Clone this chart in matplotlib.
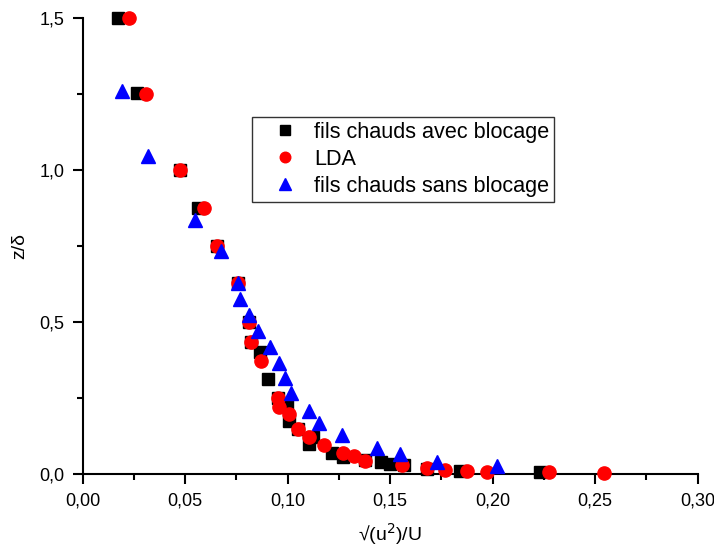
import matplotlib
matplotlib.use("Agg")
import matplotlib.pyplot as plt
from matplotlib.ticker import MultipleLocator, FuncFormatter

plt.rcParams['font.family'] = ['Liberation Sans', 'DejaVu Sans']

# fils chauds avec blocage (black squares)
sq_x = [0.0173, 0.0266, 0.0476, 0.0563, 0.0656, 0.0760, 0.0812, 0.0820, 0.0866, 0.0905,
        0.0954, 0.0998, 0.1007, 0.1050, 0.1105, 0.1124, 0.1217, 0.1270, 0.1378, 0.1456,
        0.1500, 0.1570, 0.1680, 0.1840, 0.2232]
sq_y = [1.500, 1.253, 1.000, 0.875, 0.750, 0.628, 0.500, 0.434, 0.400, 0.312,
        0.250, 0.224, 0.174, 0.148, 0.100, 0.122, 0.070, 0.056, 0.045, 0.038,
        0.033, 0.030, 0.018, 0.009, 0.006]

# LDA (red circles)
ci_x = [0.0227, 0.0310, 0.0476, 0.0593, 0.0656, 0.0760, 0.0812, 0.0820, 0.0870, 0.0954,
        0.0960, 0.1007, 0.1050, 0.1105, 0.1180, 0.1270, 0.1324, 0.1378, 0.1560, 0.1680,
        0.1766, 0.1876, 0.1973, 0.2276, 0.2544]
ci_y = [1.500, 1.250, 1.000, 0.875, 0.750, 0.628, 0.500, 0.434, 0.372, 0.250,
        0.222, 0.197, 0.148, 0.122, 0.097, 0.069, 0.059, 0.042, 0.028, 0.021,
        0.012, 0.010, 0.007, 0.006, 0.003]

# fils chauds sans blocage (blue triangles)
tr_x = [0.0193, 0.0320, 0.0550, 0.0676, 0.0760, 0.0768, 0.0810, 0.0858, 0.0915, 0.0960,
        0.0988, 0.1017, 0.1105, 0.1152, 0.1266, 0.1437, 0.1550, 0.1730, 0.2024]
tr_y = [1.260, 1.046, 0.835, 0.733, 0.628, 0.575, 0.523, 0.470, 0.418, 0.365,
        0.315, 0.265, 0.208, 0.168, 0.127, 0.086, 0.065, 0.041, 0.026]

labels = ["fils chauds avec blocage", "LDA", "fils chauds sans blocage"]

fig = plt.figure(figsize=(7.14, 5.5), dpi=100)
ax = fig.add_axes([82.5/714, 1-474/550, (697.5-82.5)/714, (474-18)/550])

ax.plot(sq_x, sq_y, 's', color='black', markersize=8.5, linestyle='none', label=labels[0], clip_on=False, zorder=3)
ax.plot(ci_x, ci_y, 'o', color='red', markersize=9.5, linestyle='none', label=labels[1], clip_on=False, zorder=4)
ax.plot(tr_x, tr_y, '^', color='blue', markersize=10, linestyle='none', label=labels[2], clip_on=False, zorder=5)

ax.set_xlim(0, 0.30)
ax.set_ylim(0, 1.5)
for s in ['top', 'right']:
    ax.spines[s].set_visible(False)
for s in ['left', 'bottom']:
    ax.spines[s].set_linewidth(1.5)

ax.xaxis.set_major_locator(MultipleLocator(0.05))
ax.xaxis.set_minor_locator(MultipleLocator(0.025))
ax.yaxis.set_major_locator(MultipleLocator(0.5))
ax.yaxis.set_minor_locator(MultipleLocator(0.25))
ax.xaxis.set_major_formatter(FuncFormatter(lambda v, p: f"{v:.2f}".replace('.', ',')))
ax.yaxis.set_major_formatter(FuncFormatter(lambda v, p: f"{v:.1f}".replace('.', ',')))
ax.tick_params(which='major', direction='out', length=7, width=1.5, labelsize=13, colors='black', pad=6)
ax.tick_params(which='minor', direction='out', length=4, width=1.5)

ax.set_xlabel("√(u$^2$)/U", fontsize=14, labelpad=9)
ax.set_ylabel("z/δ", fontsize=14, labelpad=8)

leg = ax.legend(loc='upper left', bbox_to_anchor=(252/714, 1-117/550), bbox_transform=fig.transFigure,
                fontsize=15.6, frameon=True, fancybox=False, edgecolor='black', borderaxespad=0,
                handletextpad=0.05, handlelength=2.6, labelspacing=0.28, borderpad=0.22, markerscale=0.8)
leg.get_frame().set_linewidth(1.0)

fig.savefig("out.png", dpi=100)
